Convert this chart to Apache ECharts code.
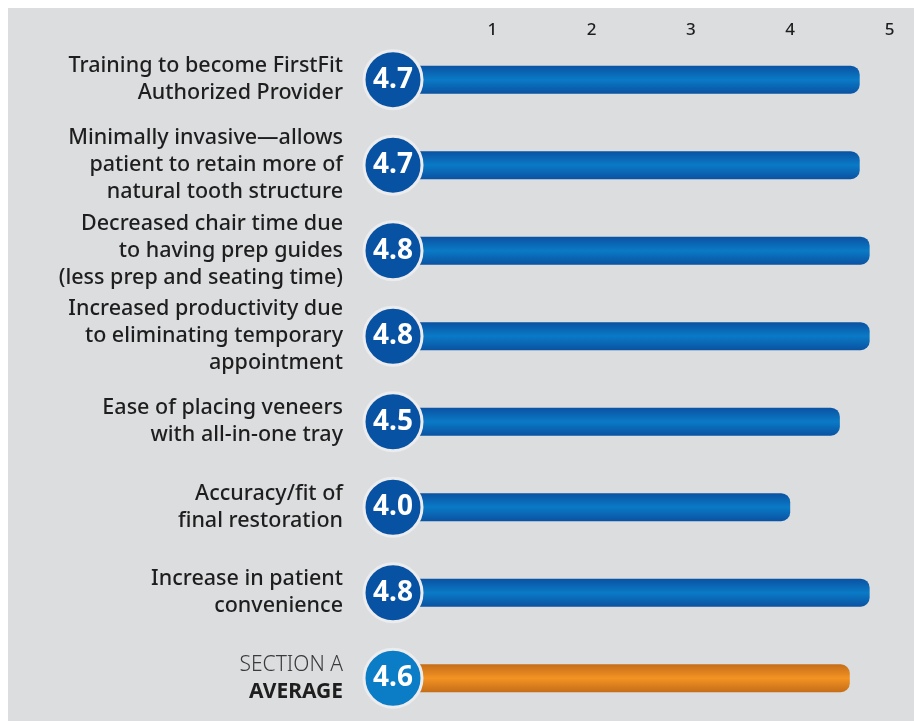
<!DOCTYPE html>
<html><head><meta charset="utf-8">
<script src="https://cdn.jsdelivr.net/npm/echarts@6/dist/echarts.min.js"></script>
<style>html,body{margin:0;padding:0;background:#fff}#c{width:914px;height:721px}</style>
</head><body><div id="c"></div>
<script>
const categories = [
  "Training to become FirstFit\nAuthorized Provider",
  "Minimally invasive\u2014allows\npatient to retain more of\nnatural tooth structure",
  "Decreased chair time due\nto having prep guides\n(less prep and seating time)",
  "Increased productivity due\nto eliminating temporary\nappointment",
  "Ease of placing veneers\nwith all-in-one tray",
  "Accuracy/fit of\nfinal restoration",
  "Increase in patient\nconvenience",
  "SECTION A\nAVERAGE"
];
const scores = [4.7, 4.7, 4.8, 4.8, 4.5, 4.0, 4.8, 4.6];
const tickLabels = ["", "1", "2", "3", "4", "5"];
const averageIndex = 7;

const blueGrad = new echarts.graphic.LinearGradient(0,0,0,1,[
  {offset:0,color:'#0a52a2'},{offset:0.5,color:'#0a7ac6'},{offset:1,color:'#0a52a2'}]);
const orangeGrad = new echarts.graphic.LinearGradient(0,0,0,1,[
  {offset:0,color:'#c56d18'},{offset:0.5,color:'#f39323'},{offset:1,color:'#c56d18'}]);

const chart = echarts.init(document.getElementById('c'));
const FONT = 'Noto Sans';
chart.setOption({
  backgroundColor: '#ffffff',
  animation: false,
  graphic: [{type:'rect', left:8, top:8, shape:{width:906, height:713}, style:{fill:'#dcdddf'}, z:-10}],
  grid: {left: 393, right: 24.5, top: 36.9, bottom: -6.1, containLabel: false},
  xAxis: {
    type: 'value', position: 'top', min: 0, max: 5, interval: 1,
    axisLine:{show:false}, axisTick:{show:false}, splitLine:{show:false},
    axisLabel: {margin: 7, verticalAlign:'middle', color:'#1e1e1e', fontSize:17, fontWeight:500, fontFamily:FONT,
      formatter: v => tickLabels[Math.round(v)] }
  },
  yAxis: {
    type: 'category', inverse: true, data: categories,
    axisLine:{show:false}, axisTick:{show:false},
    axisLabel: {
      margin: 50, align:'right', color:'#1e1e1e', fontSize:21.5, fontWeight:500, fontFamily:FONT, lineHeight:27,
      formatter: (v, i) => {
        if (i === averageIndex) {
          const p = v.split('\n');
          return '{light|' + p[0] + '}\n{bold|' + p[1] + '}';
        }
        return v;
      },
      rich: {
        light: {fontSize:21, fontFamily:FONT, fontWeight:300, color:'#3a3a3a', lineHeight:27, align:'right'},
        bold: {fontSize:21, fontFamily:FONT, fontWeight:'bold', color:'#1e1e1e', lineHeight:27, align:'right'}
      }
    }
  },
  series: [
    {
      type: 'bar', barWidth: 28, z: 2,
      data: scores.map((v, i) => ({value: v, itemStyle: {
        color: i === averageIndex ? orangeGrad : blueGrad,
        borderRadius: [0, 9, 9, 0]}}))
    },
    {
      type: 'scatter', symbol: 'circle', symbolSize: 58, z: 5,
      data: scores.map((v, i) => ({value: [0, i], itemStyle: {
        opacity: 1,
        color: i === averageIndex ? '#0a7dc6' : '#0752a3',
        borderColor: '#ececee', borderWidth: 3}})),
      label: {show: true, position: 'inside', color: '#fff', fontSize: 28, fontWeight: 'bold',
        fontFamily: FONT, formatter: p => scores[p.dataIndex].toFixed(1)}
    }
  ]
});
</script></body></html>
